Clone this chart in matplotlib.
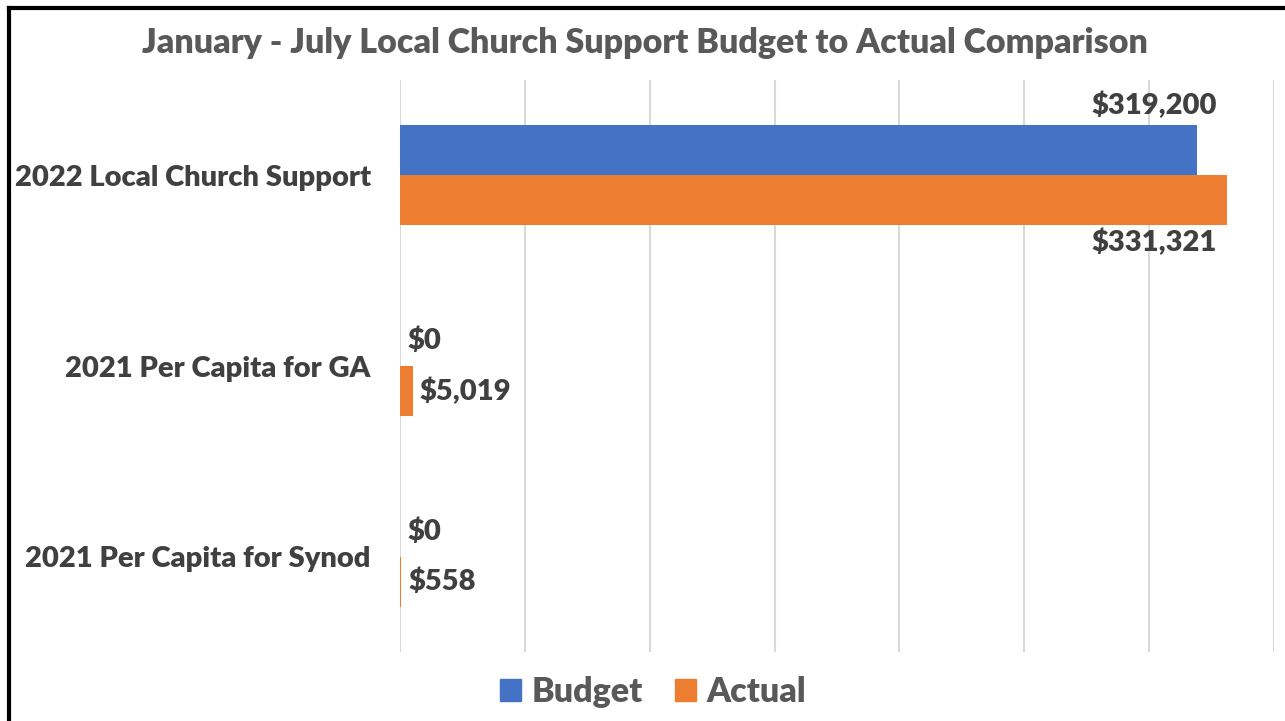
import numpy as np
import matplotlib.pyplot as plt
from matplotlib.patches import Patch
from matplotlib.lines import Line2D

categories = ['2022 Local Church Support', '2021 Per Capita for GA', '2021 Per Capita for Synod']
budget = [319200, 0, 0]
actual = [331321, 5019, 558]
series = ['Budget', 'Actual']

_blue = '#4472C4'
_orange = '#ED7D31'
_font = 'Lato'
_weight = 'heavy'


def money(v):
    return '${:,.0f}'.format(v)


def draw_chart(ofpath):
    fig = plt.figure(figsize=(12.85, 7.21), dpi=100)
    ax = fig.add_axes([400 / 1285, 1 - 652 / 721, 874 / 1285, 572 / 721])

    ind = np.arange(len(categories))
    h = 0.263
    ax.barh(ind - h / 2, budget, h, color=_blue, zorder=3)
    ax.barh(ind + h / 2, actual, h, color=_orange, zorder=3)

    ax.set_xlim(0, 350000)
    ax.set_ylim(len(categories) - 0.5, -0.5)
    ax.set_xticks(np.arange(0, 350001, 50000))
    ax.set_xticklabels([])
    ax.tick_params(axis='both', length=0)
    ax.set_yticks(ind)
    ax.set_yticklabels(categories, fontsize=21, fontweight=_weight,
                       color='#404040', family=_font)
    ax.tick_params(axis='y', pad=21)
    ax.grid(axis='x', color='#d9d9d9', linewidth=1.5, zorder=0)
    for s in ax.spines.values():
        s.set_visible(False)

    lab = dict(fontsize=21, fontweight=_weight, color='#404040', family=_font,
               textcoords='offset pixels')
    for i in ind:
        for vals, y, off in ((budget, i - h / 2, (20, 45)), (actual, i + h / 2, (-11, -42))):
            v = vals[i]
            if v > 100000:
                ax.annotate(money(v), (v, y), xytext=off, ha='right',
                            va='center', **lab)
            else:
                ax.annotate(money(v), (v, y), xytext=(7, 0), ha='left',
                            va='center', **lab)

    fig.text(645 / 1285, 1 - 43 / 721,
             'January - July Local Church Support Budget to Actual Comparison',
             ha='center', va='center', fontsize=24.5, fontweight=_weight,
             color='#595959', family=_font)

    handles = [Patch(color=_blue), Patch(color=_orange)]
    leg = fig.legend(handles, series, loc='center',
                     bbox_to_anchor=(653 / 1285, 1 - 692 / 721),
                     ncol=2, frameon=False, handlelength=0.62, handleheight=0.62,
                     handletextpad=0.3, columnspacing=0.94, borderpad=0,
                     prop={'family': _font, 'weight': _weight, 'size': 24.5})
    for t in leg.get_texts():
        t.set_color('#595959')

    # border of the chart area (top and left edges visible)
    fig.add_artist(Line2D([9 / 1285, 9 / 1285], [0, 1 - 8 / 721],
                          transform=fig.transFigure, color='black', linewidth=3))
    fig.add_artist(Line2D([9 / 1285, 1], [1 - 8 / 721, 1 - 8 / 721],
                          transform=fig.transFigure, color='black', linewidth=3))

    fig.savefig(ofpath, dpi=100)
    plt.close(fig)


if __name__ == '__main__':
    draw_chart('out.png')
